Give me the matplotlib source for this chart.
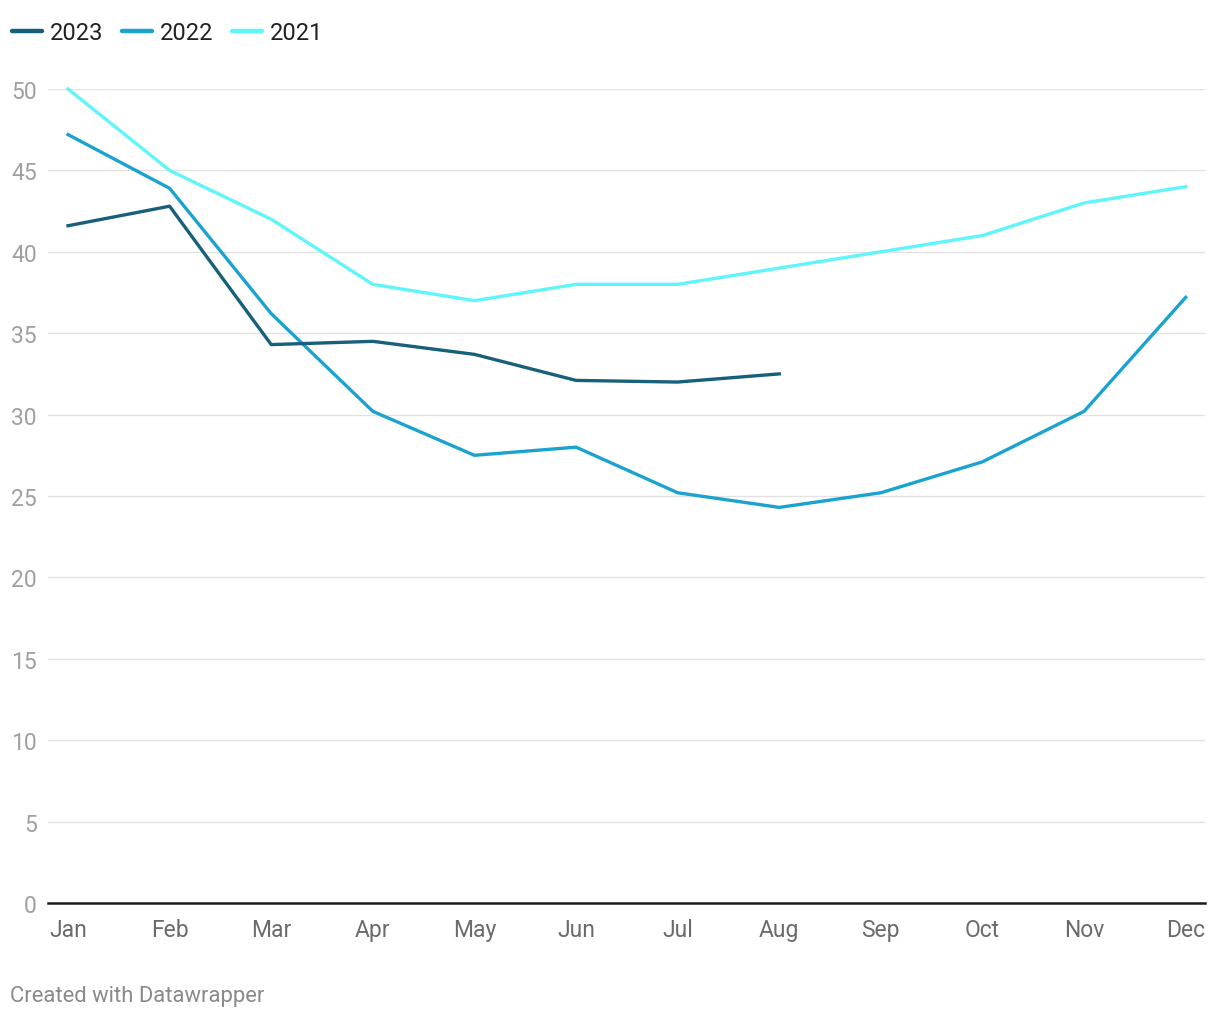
import matplotlib.pyplot as plt
from matplotlib.lines import Line2D

plt.rcParams['font.family'] = ['Roboto', 'DejaVu Sans']

months = ['Jan', 'Feb', 'Mar', 'Apr', 'May', 'Jun', 'Jul', 'Aug', 'Sep', 'Oct', 'Nov', 'Dec']
y2023 = [41.6, 42.8, 34.3, 34.5, 33.7, 32.1, 32.0, 32.5]
y2022 = [47.2, 43.9, 36.2, 30.2, 27.5, 28.0, 25.2, 24.3, 25.2, 27.1, 30.2, 37.2]
y2021 = [50, 45, 42, 38, 37, 38, 38, 39, 40, 41, 43, 44]
yticks = [0, 5, 10, 15, 20, 25, 30, 35, 40, 45, 50]

colors = {'2023': '#17607a', '2022': '#1ba3d0', '2021': '#5ff5fb'}

fig = plt.figure(figsize=(12.2, 10.2), dpi=100)
ax = fig.add_axes([48 / 1220, 116 / 1020, 1157 / 1220, 814 / 1020])

x = list(range(len(months)))
# draw oldest first so newest sits on top
ax.plot(x, y2021, color=colors['2021'], lw=2.4, clip_on=False, zorder=3)
ax.plot(x[:len(y2022)], y2022, color=colors['2022'], lw=2.4, clip_on=False, zorder=4)
ax.plot(x[:len(y2023)], y2023, color=colors['2023'], lw=2.4, clip_on=False, zorder=5)

ax.set_ylim(0, 50)
ax.set_xlim(-0.197, 11.19)
ax.set_yticks(yticks)
ax.set_yticklabels([str(t) for t in yticks], color='#a0a0a0', fontsize=16.5)
ax.set_xticks(x)
ax.set_xticklabels(months, color='#6b6b6b', fontsize=16.5)
ax.tick_params(axis='y', length=0, pad=8)
ax.tick_params(axis='x', length=0, pad=11)

for t in yticks[1:]:
    ax.axhline(t, color='#e2e2e2', lw=1, zorder=1)
ax.axhline(0, color='#1a1a1a', lw=1.8, zorder=6, clip_on=False)

for s in ax.spines.values():
    s.set_visible(False)

handles = [Line2D([], [], color=colors[k], lw=3.2, solid_capstyle='round') for k in ['2023', '2022', '2021']]
fig.legend(handles, ['2023', '2022', '2021'], loc='upper left', bbox_to_anchor=(12 / 1220, 1 - 22 / 1020),
           ncol=3, frameon=False, fontsize=17, handlelength=1.25, handletextpad=0.35,
           columnspacing=0.8, labelcolor='#222222', borderpad=0, borderaxespad=0)

fig.text(10 / 1220, 1 - 997 / 1020, 'Created with Datawrapper', color='#8a8a8a', fontsize=15.8, va='center')

fig.savefig('out.png', dpi=100, facecolor='white')
